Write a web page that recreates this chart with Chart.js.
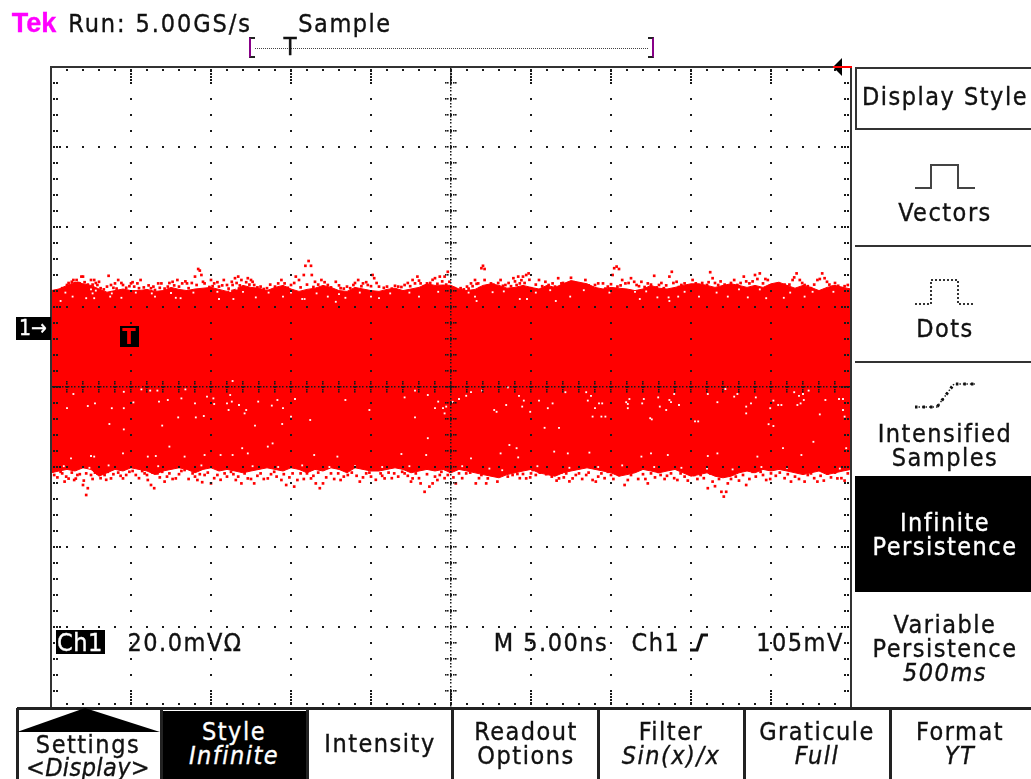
<!DOCTYPE html>
<html lang="en">
<head>
<meta charset="UTF-8">
<title>Tek Run: 5.00GS/s Sample</title>
<style>
    html, body { margin: 0; padding: 0; background: #fff; width: 1031px; height: 779px; overflow: hidden; }
    body { position: relative; font-family: "DejaVu Sans", sans-serif; font-stretch: condensed; font-size: 25px; color: #111; -webkit-text-stroke: 0.35px; }
    canvas { position: absolute; left: 0; top: 0; }
    .t { position: absolute; transform: translate(-50%, -50%); white-space: nowrap; line-height: 1; letter-spacing: 1.5px; }
    .w { color: #fff; }
    .i { font-style: italic; }
    .box { position: absolute; box-sizing: border-box; }
    .line { position: absolute; background: #333; }
</style>
</head>
<body>

<canvas id="scope" width="1031" height="779"></canvas>

<!-- header -->
<div class="t" style="left:34px;top:23px;color:#f0f;font-family:'Liberation Sans';font-weight:bold;font-size:27px;letter-spacing:0">Tek</div>
<div class="t" style="left:160px;top:23px;letter-spacing:1.9px">Run: 5.00GS/s</div>
<div class="t" style="left:345px;top:23px">Sample</div>
<div class="box" style="left:249px;top:37px;width:6px;height:21px;border:2px solid #222;border-right:0;border-left-color:#808"></div>
<div class="box" style="left:648px;top:37px;width:6px;height:21px;border:2px solid #222;border-left:0;border-right-color:#808"></div>
<div class="box" style="left:255px;top:48px;width:393px;height:1px;background:repeating-linear-gradient(90deg,#444 0 1px,#fff 1px 2px)"></div>
<div class="t" style="left:290px;top:47px;font-size:24px;letter-spacing:0">T</div>

<!-- channel + trigger markers -->
<div class="box" style="left:16px;top:317px;width:35px;height:23px;background:#000"></div>
<div class="t w" style="left:33px;top:328px;font-size:21px;letter-spacing:0">1→</div>
<div class="box" style="left:120px;top:326px;width:19px;height:21px;background:#000"></div>
<div class="t" style="left:129px;top:337px;font-size:22px;color:#f00;font-weight:bold;letter-spacing:0;-webkit-text-stroke:0">T</div>
<svg style="position:absolute;left:830px;top:55px" width="24" height="24">
    <polygon points="3,12 12,3 12,21" fill="#000"></polygon>
    <rect x="3" y="11" width="19" height="2" fill="#f00"></rect>
</svg>

<!-- readouts -->
<div class="box" style="left:56px;top:630px;width:49px;height:24px;background:#000"></div>
<div class="t w" style="left:80px;top:642px;letter-spacing:0.5px">Ch1</div>
<div class="t" style="left:185px;top:642px">20.0mVΩ</div>
<div class="t" style="left:551px;top:642px">M 5.00ns</div>
<div class="t" style="left:656px;top:642px">Ch1</div>
<svg style="position:absolute;left:688px;top:630px" width="22" height="24">
    <polyline points="2,20 9,20 14,5 20,5" fill="none" stroke="#111" stroke-width="3"></polyline>
</svg>
<div class="t" style="left:800px;top:642px">105mV</div>

<!-- right menu -->
<div class="box" style="left:855px;top:67px;width:176px;height:63px;border:2px solid #333;border-right:0"></div>
<div class="t" style="left:945px;top:96px">Display Style</div>
<svg style="position:absolute;left:910px;top:160px" width="70" height="34">
    <polyline points="5,28 21,28 21,5 48,5 48,28 65,28" fill="none" stroke="#444" stroke-width="2"></polyline>
</svg>
<div class="t" style="left:945px;top:212px">Vectors</div>
<div class="line" style="left:855px;top:245px;width:176px;height:2px"></div>
<svg style="position:absolute;left:910px;top:275px" width="70" height="34">
    <polyline points="5,29 21,29 21,5 48,5 48,29 65,29" fill="none" stroke="#333" stroke-width="2" stroke-dasharray="2 2"></polyline>
</svg>
<div class="t" style="left:945px;top:328px">Dots</div>
<div class="line" style="left:855px;top:361px;width:176px;height:2px"></div>
<svg style="position:absolute;left:910px;top:378px" width="70" height="34">
    <polyline points="5,29 27,29 44,6 66,6" fill="none" stroke="#222" stroke-width="1.5" stroke-dasharray="1.5 2"></polyline>
    <polyline points="5,29 27,29 44,6 66,6" fill="none" stroke="#111" stroke-width="3" stroke-dasharray="2.5 5"></polyline>
</svg>
<div class="t" style="left:945px;top:433px">Intensified</div>
<div class="t" style="left:945px;top:457px">Samples</div>
<div class="box" style="left:855px;top:476px;width:176px;height:116px;background:#000"></div>
<div class="t w" style="left:945px;top:522px">Infinite</div>
<div class="t w" style="left:945px;top:546px">Persistence</div>
<div class="t" style="left:945px;top:624px">Variable</div>
<div class="t" style="left:945px;top:648px">Persistence</div>
<div class="t i" style="left:945px;top:672px">500ms</div>

<!-- bottom menu -->
<div class="line" style="left:17px;top:707px;width:1014px;height:3px;background:#222"></div>
<div class="line" style="left:16px;top:708px;width:3px;height:71px;background:#222"></div>
<div class="line" style="left:160px;top:708px;width:3px;height:71px;background:#222"></div>
<div class="line" style="left:306px;top:708px;width:3px;height:71px;background:#222"></div>
<div class="line" style="left:451px;top:708px;width:3px;height:71px;background:#222"></div>
<div class="line" style="left:597px;top:708px;width:3px;height:71px;background:#222"></div>
<div class="line" style="left:743px;top:708px;width:3px;height:71px;background:#222"></div>
<div class="line" style="left:889px;top:708px;width:3px;height:71px;background:#222"></div>
<svg style="position:absolute;left:17px;top:707px" width="144" height="27">
    <polygon points="0,25 68,1 143,25" fill="#000"></polygon>
</svg>
<div class="t" style="left:88px;top:744px">Settings</div>
<div class="t" style="left:88px;top:767px;letter-spacing:0.4px">&lt;<span class="i">Display</span>&gt;</div>
<div class="box" style="left:163px;top:711px;width:143px;height:68px;background:#000"></div>
<div class="t w" style="left:234px;top:731px">Style</div>
<div class="t w i" style="left:234px;top:755px">Infinite</div>
<div class="t" style="left:380px;top:743px">Intensity</div>
<div class="t" style="left:526px;top:731px">Readout</div>
<div class="t" style="left:526px;top:755px">Options</div>
<div class="t" style="left:671px;top:731px">Filter</div>
<div class="t i" style="left:671px;top:755px">Sin(x)/x</div>
<div class="t" style="left:817px;top:731px">Graticule</div>
<div class="t i" style="left:817px;top:755px">Full</div>
<div class="t" style="left:960px;top:731px">Format</div>
<div class="t i" style="left:960px;top:755px">YT</div>

<script src="https://cdn.jsdelivr.net/npm/chart.js"></script>
<script>
    // Time in ns (5 ns/div), level in mV relative to the ch1 marker (20 mV/div)
    const bandTimes = [0,0.5,1,1.5,2,2.5,3,3.5,4,4.5,5,5.5,6,6.5,7,7.5,8,8.5,9,9.5,10,10.5,11,11.5,12,12.5,13,13.5,14,14.5,15,15.5,16,16.5,17,17.5,18,18.5,19,19.5,20,20.5,21,21.5,22,22.5,23,23.5,24,24.5,25,
        25.5,26,26.5,27,27.5,28,28.5,29,29.5,30,30.5,31,31.5,32,32.5,33,33.5,34,34.5,35,35.5,36,36.5,37,37.5,38,38.5,39,39.5,40,40.5,41,41.5,42,42.5,43,43.5,44,44.5,45,45.5,46,46.5,47,47.5,48,48.5,49,49.5,50];

    const bandTop = [9.1,9.5,10.4,11.2,10.8,10.4,9.5,8.7,9.1,9.5,9.1,9.1,9.4,8.9,9.1,9.9,9.4,9.1,9.5,9.7,9.9,9.4,8.9,9.4,10.4,9.9,9.7,9.1,9.9,10.4,9.5,8.9,9.4,9.7,10.4,9.9,9.1,8.9,9.9,9.5,9.1,8.9,9.4,9.7,9.1,9.5,9.9,10.8,10.4,10.5,10.4,
        9.5,9.1,9.4,10.4,10.8,10.4,9.7,9.9,10.4,9.9,9.5,10.4,9.9,10.8,11.6,11.2,10.8,9.9,9.5,9.9,9.7,9.5,9.1,9.5,10.4,9.7,9.5,9.9,10.4,10.8,10.8,10.4,9.9,10.4,10.8,10.4,9.9,10.4,9.9,10.8,11.2,10.4,9.7,10.4,9.9,9.1,9.9,10.4,9.9,9.5];

    const bandBottom = [-36.45,-36,-35.6,-36,-35.2,-35.6,-37.3,-36.45,-35.6,-36,-35.2,-35.6,-36,-36.9,-36,-35.6,-35.2,-35.6,-36.45,-35.6,-35.2,-36,-35.6,-36,-36.45,-36,-35.6,-35.2,-35.6,-36,-35.2,-35.6,-36.45,-35.6,-36,-35.2,-35.6,-36.45,-35.2,-35.6,-36,-36,-35.6,-35.2,-35.6,-36.45,-36,-35.6,-36,-35.6,-36.45,
        -35.6,-36,-36.45,-36.9,-37.3,-37.7,-36.9,-36.45,-36,-35.6,-36.45,-36.9,-37.3,-36.45,-36,-35.6,-35.2,-35.6,-36,-36.45,-37.3,-36.9,-36.45,-35.6,-36,-36.45,-36,-35.6,-36.45,-37.3,-36.9,-36.45,-37.3,-37.7,-37.3,-36.45,-36,-36.45,-35.6,-36,-35.6,-36,-36.45,-36.9,-36.45,-36,-36.9,-36.45,-36,-35.6];

    // samples outside the solid band
    const upperSamples = [[0.4,8.4],[0.7,9.7],[1,10.5],[1.4,11.75],[1.6,11.75],[1.9,12.6],[2,12.6],[1.8,10.9],[2.2,10.1],[2.5,11.75],[2.7,11.75],[2.9,10.5],[2.4,9.25],[2.7,8.4],[3.1,9.7],[3.6,12.8],[3.75,10.5],[4,10.9],[4.2,11.75],[4.5,10.5],[5,10.9],[5.2,10.1],[5.6,11.75],[5.5,9.7],[6.25,9.7],[6.7,10.9],[6.9,10.9],[6.5,9.25],[7.3,10.1],[7.6,11.3],[7.9,11.75],[8,10.1],[8.5,10.9],[9,12.6],[9.2,14.5],[9.3,14.1],[9.4,13],[8.6,9.7],[9.6,10.9],[10,11.75],[10.2,10.9],[10.5,10.1],[10.8,11.75],[11,10.5],[11.5,12.2],[11.7,12.6],[11.9,11.75],[11.35,10.5],[12.3,12.2],[12.5,11.75],[12.7,10.5],[12.1,9.7],[13.1,10.1],[13.5,9.7],[14,10.1],[14.4,11.75],[14.6,10.9],[15.3,12.6],[15.5,11.75],[15.8,13],[15.9,15.3],[16.1,16.5],[16.25,15.3],[16.3,13],[16.5,11.3],[16.9,11.75],[17.3,10.5],[17.8,11.3],[18.1,9.7],[18.5,10.1],[18.9,10.5],[19.2,11.75],[19.5,10.9],[19.8,10.5],[20.1,13],[20.2,12.2],[20.5,10.1],[21,10.1],[21.7,10.1],[22.1,10.5],[22.6,11.75],[22.9,12.6],[23.1,10.9],[23.5,10.9],[24,12.2],[24.3,12.6],[24.6,12.6],[24.8,13.8],[24.9,11.3],
        [25.2,9.7],[25.6,9.7],[26,10.1],[26.25,10.9],[26.5,11.75],[26.7,10.9],[26.9,14.7],[27,15.3],[27.1,14.5],[27.1,11.75],[26.8,9.7],[27.5,10.9],[27.8,10.1],[28.1,11.75],[28.4,10.5],[28.9,12.2],[29.2,12.6],[29.5,12.6],[29.7,13],[29.85,13.4],[29.3,10.9],[30,9.7],[30.5,11.75],[30.9,11.3],[30.2,9.25],[31.35,10.9],[31.7,12.2],[31.9,10.9],[32.2,9.7],[32.5,12.3],[32.8,10.1],[33.1,10.1],[33.4,11.75],[34,10.5],[34.5,10.9],[34.8,10.1],[35.1,13],[35.2,14.7],[35.35,15.1],[35.5,14.5],[35.7,11.75],[35.4,10.1],[36.25,12.2],[36.6,10.5],[36.9,11.3],[37.3,10.9],[37.7,12.8],[38,10.5],[38.3,9.7],[38.65,12.6],[38.8,13.8],[39.1,11.3],[39.4,10.5],[39.8,9.7],[40.1,11.75],[40.5,10.1],[41,10.5],[41.2,13.7],[41.35,12.2],[41.7,10.5],[42.3,9.7],[42.7,11.75],[42.9,10.5],[43.3,12.6],[43.65,10.9],[44,13],[44.3,13.4],[44.5,10.9],[44.8,11.75],[45.3,10.1],[45.6,9.7],[46,10.1],[46.35,11.75],[46.6,13.4],[46.8,11.75],[47.1,10.5],[47.5,9.7],[47.9,11.75],[48.2,13.4],[48.5,11.3],[48.85,10.1],[49.4,9.7],[49.8,10.5],
        [0.2,8.9],[0.5,9.2],[0.9,9.6],[1.1,11],[1.2,10.2],[1.3,11.3],[1.5,10.9],[1.7,11],[1.75,10.2],[2.1,11.2],[2.3,10.6],[2.6,10.6],[2.8,11],[3,11.3],[3.3,9.4],[3.5,10.1],[3.9,9.8],[4.1,9.6],[4.4,11],[4.7,9.8],[4.9,10.2],[5.1,11.2],[5.4,10.9],[5.8,9.9],[6.1,10.4],[6.4,10.1],[6.8,9.8],[7.1,9.6],[7.4,11],[7.7,10.4],[8.2,10.9],[8.4,11.4],[8.8,11],[9.1,10.5],[9.5,11.3],[9.9,10],[10.1,10.2],[10.4,11.2],[10.7,10.4],[11.1,9.6],[11.3,11.3],[11.6,11],[11.8,10.4],[12.2,11.2],[12.4,10.6],[12.6,11.3],[12.9,9.9],[13.3,9.5],[13.7,10.6],[14.2,10.9],[14.8,9.8],[15,10.5],[15.2,11],[15.6,9.9],[16,10.6],[16.4,10],[16.7,10.6],[17.1,11.2],[17.5,9.9],[18,10.4],[18.3,9.6],[18.7,9.7],[19,11],[19.4,10.2],[19.7,11.2],[20,10.2],[20.35,11],[20.8,9.8],[21.3,9.6],[21.5,10.3],[21.9,10],[22.3,11],[22.45,10.2],[22.75,10.9],[23,11.6],[23.3,10.2],[23.7,11],[23.85,11.8],[24.15,10.8],[24.45,11.4],[24.7,10.6],
        [25.4,9.1],[25.8,9.4],[26.1,9.6],[26.35,10.2],[26.6,10.8],[27.3,10.2],[27.65,10.6],[27.95,11],[28.25,10.3],[28.6,11],[28.75,10.2],[29,11.4],[29.1,10.5],[29.4,11.7],[29.6,11],[29.9,11.8],[30.3,10.6],[30.7,10.2],[31.1,10.5],[31.5,10.1],[32,11],[32.35,10.4],[32.65,11.2],[33,10.8],[33.25,9.7],[33.6,10.4],[33.85,9.8],[34.2,10.9],[34.65,9.6],[35,10.7],[35.6,10.4],[35.9,10.9],[36.1,11],[36.45,11.3],[36.75,10.2],[37.1,10],[37.5,10.6],[37.85,9.9],[38.15,11],[38.45,10.4],[38.9,11],[39.25,10],[39.6,10.9],[39.95,10.2],[40.3,10.9],[40.7,11],[41.1,11.2],[41.5,11],[41.85,11.4],[42.1,10.6],[42.5,11],[43.1,11],[43.45,11.4],[43.85,11.4],[44.15,12],[44.65,12],[44.95,10.4],[45.15,9.9],[45.45,10.3],[45.85,10.6],[46.15,10.6],[46.45,12.4],[46.95,11],[47.3,10.2],[47.7,10.6],[48.05,12],[48.35,12.2],[48.65,10.6],[49,11],[49.2,10.3],[49.6,10.2]];

    const lowerSamples = [[0.2,-37],[0.6,-36.2],[0.95,-37.4],[0.85,-38.65],[1.45,-38.25],[1.65,-37],[2.05,-38.4],[2,-39.5],[2.2,-42],[2.3,-40.3],[2.5,-37],[2.9,-36.6],[3.35,-37],[3.55,-36.2],[3.75,-37.85],[4.5,-37.85],[4.9,-36.2],[5.3,-37],[5.85,-36.6],[6.05,-38.25],[6.25,-39.5],[6.45,-40.3],[6.65,-36.6],[7.1,-38.65],[7.4,-36.6],[7.8,-37.85],[8.35,-35.75],[8.85,-36.6],[9.15,-38.25],[9.6,-37],[10,-39.1],[10.4,-37],[10.85,-36.6],[11.25,-36.2],[11.55,-38.25],[11.9,-39.1],[12.3,-37.85],[12.7,-39.1],[13.1,-36.6],[13.55,-37.85],[13.95,-36.2],[14.4,-38.25],[14.7,-39.5],[15.2,-39.9],[15.4,-38.25],[15.6,-36.6],[16.25,-37.85],[16.55,-39.1],[16.8,-40.3],[17,-39.1],[17.5,-36.6],[18.1,-38.25],[18.55,-37],[19.3,-38.65],[19.7,-36.6],[20,-37.4],[20.6,-36.6],[20.85,-37.85],[21.45,-36.6],[22.1,-36.6],[22.5,-38.65],[22.6,-37.85],[23.1,-39.1],[23.35,-41.2],[23.65,-39.9],[23.85,-39.1],[24.15,-38.25],[24.4,-36.2],[24.8,-37],
        [25.3,-39.1],[25.5,-36.6],[25.95,-36.6],[26.55,-39.1],[26.9,-37],[27.2,-39.1],[27.3,-37.85],[27.7,-37],[27.9,-38.65],[28.35,-35.75],[28.85,-37],[29.15,-36.75],[29.5,-36.75],[29.7,-37.85],[30,-36.6],[30.1,-35.75],[30.75,-35.75],[31.15,-35.3],[31.45,-36.6],[31.75,-37.85],[32.2,-36.6],[32.6,-37.85],[33,-36.6],[33.45,-37],[33.85,-38.25],[34.05,-38.65],[34.4,-36.6],[35,-37],[35.3,-36.2],[35.85,-39.5],[36.05,-38.25],[36.45,-35.75],[37.3,-39.1],[37.5,-36.6],[38.1,-37],[38.75,-36.6],[39.15,-38.25],[39.6,-37.4],[40.2,-37],[40.6,-37],[41.05,-40.3],[41.35,-38.65],[41.65,-37],[41.9,-41.2],[42.05,-42.4],[42.2,-41.2],[42.3,-39.1],[42.8,-37.4],[43.45,-39.5],[43.85,-36.2],[44.7,-38.25],[45,-36.6],[46.25,-38.65],[47.1,-38.65],[47.9,-38.65],[47.5,-36.6],[48.55,-36.6],[49.15,-37.85],[49.8,-36.6],
        [0.1,-36],[0.4,-37.6],[0.7,-36.6],[1.1,-37.9],[1.3,-36.4],[1.55,-37.9],[1.8,-36.8],[2.2,-36.6],[2.6,-38],[2.75,-36.4],[3.1,-37.8],[3.2,-36.4],[3.45,-38.2],[3.9,-36.8],[4.2,-36.4],[4.35,-37.2],[4.7,-37],[5.1,-36],[5.5,-37.8],[5.7,-36],[6,-37],[6.35,-36.4],[6.8,-37.6],[6.95,-36.2],[7.25,-37.4],[7.6,-38],[8,-36.8],[8.15,-36],[8.6,-38],[9,-37.4],[9.3,-36.8],[9.45,-38.8],[9.8,-36.4],[10.2,-37.8],[10.6,-38.2],[11,-37.4],[11.4,-36.8],[11.7,-37.4],[12.1,-36.6],[12.5,-38],[12.9,-37.2],[13.3,-38],[13.75,-36.8],[14.1,-37.4],[14.55,-36.8],[14.9,-37.6],[15.1,-36.6],[15.8,-38],[16,-36.6],[16.4,-37.2],[16.7,-36.4],[17.2,-37.6],[17.7,-38],[17.95,-36.6],[18.3,-37.4],[18.8,-36.4],[19.1,-37.2],[19.5,-37.6],[19.9,-36.4],[20.3,-38.2],[20.7,-37.2],[21.1,-36.4],[21.3,-37.8],[21.7,-37.4],[21.95,-36.2],[22.3,-37.2],[22.8,-36.6],[23,-37.8],[23.5,-36.8],[24,-37.4],[24.3,-37],[24.6,-37.8],[24.95,-36.2],
        [25.15,-37.6],[25.7,-37.8],[26.2,-36.4],[26.75,-37.8],[27.05,-36.2],[27.5,-36.6],[27.85,-37],[28.1,-36.4],[28.55,-37.4],[28.7,-36.2],[29.3,-37.8],[29.95,-37.6],[30.3,-37],[30.55,-36.4],[30.95,-36.8],[31.3,-37.4],[31.6,-38.4],[31.9,-36.4],[32.05,-37.6],[32.4,-38.6],[32.8,-37],[33.2,-38],[33.6,-36.4],[34.2,-37.4],[34.6,-37.8],[34.8,-36.2],[35.15,-38],[35.5,-37],[36.25,-37],[36.7,-38],[37,-36.8],[37.15,-38],[37.75,-37.6],[37.95,-36.2],[38.35,-38],[38.5,-37.2],[38.95,-37.8],[39.35,-36.6],[39.8,-38.4],[40,-36.6],[40.4,-38],[40.8,-37.8],[41.2,-36.6],[41.5,-39.8],[41.75,-38],[42,-36.8],[42.5,-38],[42.65,-36.4],[43,-38.4],[43.25,-37],[43.65,-38],[44.05,-37.4],[44.35,-36.2],[44.5,-37],[44.95,-38],[45.3,-37.2],[45.55,-36.4],[45.85,-37.8],[46.05,-36.8],[46.5,-37.4],[46.75,-38],[47.3,-37],[47.7,-37.8],[48.1,-37.2],[48.3,-38.4],[48.75,-37.6],[49,-36.4],[49.4,-37.8],[49.6,-38.4]];

    // gaps left inside the band
    const bandGaps = [[1.4,-16.75],[1,-20.3],[2.3,-19.75],[2.75,-19.1],[3.8,-20.3],[4.55,-20.3],[3.65,-24.25],[4.55,-25.6],[4.55,-16.2],[5.15,-18.85],[5.65,-15.6],[6.2,-15.9],[6.65,-15.9],[6.75,-18.65],[7.3,-18.25],[8.15,-17.85],[7.95,-22.6],[6.95,-24.65],[7.4,-29.9],[8.4,-15.6],[9,-19.1],[9.05,-22.6],[9.55,-22.25],[9.75,-17.4],[10.15,-17.85],[10.2,-19.25],[11,-19.1],[11.2,-17],[11.35,-13.5],[11.3,-18.65],[11.1,-20.75],[11.75,-19.5],[12.2,-20.75],[12.1,-21.6],[12.75,-24.65],[12.95,-18.65],[13.8,-19.65],[14.15,-18.25],[14.5,-20.3],[14.45,-24.25],[15,-22.4],[15.25,-18],[13.85,-29.1],[13.55,-29.9],[11.95,-30.3],
        [16.2,-23.25],[18.4,-18.25],[19.9,-20.75],[22.1,-17.6],[22.75,-15.9],[23.55,-17],[24,-20.3],[24.2,-18.65],[24.5,-20.3],[24.6,-21.6],[24.7,-19.9],[22.75,-22.6],[23.55,-27.8],
        [25.95,-17.2],[26.25,-16.3],[25.5,-18],[25.1,-18.7],[26.95,-15.9],[28.55,-15.1],[29.25,-17.2],[28.45,-19.5],[29.55,-18.4],[29.45,-19.9],[29.95,-21.2],[30.5,-18.4],[31.35,-19.1],[31.05,-20.3],[27.7,-20.75],[27.85,-21.2],[32.15,-16.3],[33.45,-16.3],[33.75,-17.2],[33.55,-18.4],[34.25,-19.1],[34.45,-19.1],[34,-20.3],[33.85,-22.4],[34.4,-22.4],[34.65,-22.4],[36.15,-18],[35.95,-18.8],[36.05,-19.25],[36.05,-20.3],[37.05,-18],[36.95,-19.1],[37.95,-17.6],[38.05,-19.9],[38.65,-18.25],[38.75,-18.8],[38.45,-20.75],[38.95,-16.75],[39.25,-19.5],[37.45,-22.8],[37.55,-23.1],[30.85,-25.2],[31.75,-25.2],[28.65,-29.5],[29.1,-30.3],[40.25,-23.6],[40.45,-23.6],[41.05,-16.75],[41.65,-18.8],[42.15,-15.5],[42.7,-17.4],[42.9,-16.75],[43.45,-19.9],[43.45,-21.6],[43.75,-19.1],[44.05,-17.6],[44.95,-20.3],[45.15,-18.4],[45.45,-19.5],[45.65,-19.5],[46.45,-16.3],[46.75,-17.2],[47,-16.75],[47.05,-18.25],[46.65,-19.5],[46.85,-19.1],[47.35,-15.9],[48.05,-21.85],[48.4,-18.25],[49.25,-18],[49.5,-18],[49.5,-20.75],[49.6,-22.4],[44.85,-24.3],[45.15,-24.75],[47.65,-28.7],[45.75,-30.3],[49.7,-30.3],
        [0.6,6.5],[1.35,7.6],[2.2,7.2],[2.7,7.2],[3.7,7.6],[4.4,7.3],[6.5,7.6],[7.8,7.3],[8.1,7.2],[10.5,7],[11.4,7],[12.8,7.4],[14.5,7.6],[15.7,7],[15.85,7],[17.3,7.6],[17.8,6.3],[18.4,7.3],[20,7.6],[20.5,7.2],[23,7.6],
        [26.6,6.5],[26.5,7.6],[29.3,7],[29.75,7],[31.55,6.5],[32.45,7.6],[36.8,7],[37.9,7.4],[38.6,7.4],[38.65,6.5],[39.2,7.6],[40.5,7.6],[42.3,7.6],[43.55,7.4],[44.7,7.2],[45.8,7.3],[47.1,7.6],
        [1.25,-32.85],[2.5,-32.25],[2.7,-32.4],[4.5,-31.6],[6.05,-32.4],[6.55,-32.25],[8.35,-32.4],[9.6,-32],[10.6,-32],[11.35,-32],[12.3,-31.6],[16.45,-32],[17.9,-32.4],[21.9,-31.75],[23.45,-32],
        [26.25,-32.85],[28.1,-31.6],[29.2,-32.6],[31.45,-31.15],[32.3,-31.6],[33.65,-31.4],[36.9,-32.4],[37.5,-31.6],[38.55,-32],[41.05,-32.25],[41.65,-31.6],[46.9,-32],[44.15,-32.4],
        [0.9,8.6],[2.5,9.4],[2.8,9.1],[2.6,8.4],[3.8,8.4],[5.3,8.6],[6.3,8.4],[7.5,8.5],[8.9,8.6],[10.4,8.8],[11.2,9],[11.6,9.6],[12,8.8],[13.6,8.6],[15,8.6],[16.6,8.4],[18,8.2],[19.3,8.6],[21.2,8.4],[22.4,8.6],[24.2,8.8],[26.1,8.6],[27.6,8.7],[28.3,8.9],[30.3,8.6],[31.2,9.2],[33.3,9.2],[34.9,8.6],[36.5,8.8],[37.2,8.9],[39.6,8.8],[41.6,8.6],[43,9.4],[44.3,9.4],[46.2,8.6],[47.6,8.8],[48.9,8.8],
        [0.8,-34.8],[2.4,-35.2],[3.6,-34.6],[5,-35],[6.7,-34.8],[8,-35],[9.4,-34.6],[11,-35],[12.6,-34.8],[14.2,-35],[15.7,-34.6],[17.4,-35],[19,-34.8],[20.7,-35],[22.4,-34.8],[24,-35],[25.7,-34.8],[27.4,-35.4],[28.2,-35.8],[30.4,-34.8],[32.4,-35.2],[34.2,-35],[35.7,-34.6],[37.7,-35],[39.4,-35.2],[41,-35.4],[42.6,-35.6],[44.4,-35],[46,-35.2],[48,-35],[49.3,-35.4]];

    // graticule: divisions and subdivisions on both scales
    const timeDivisions = [0,5,10,15,20,25,30,35,40,45,50];
    const levelDivisions = [65,45,25,5,-15,-35,-55,-75,-95];
    const timeCentre = 25;
    const levelCentre = -15;
    const timeSubdiv = 1;    // ns
    const levelSubdiv = 4;   // mV

    const graticule = {
        id: 'graticule',
        afterDatasetsDraw(chart) {
            const g = chart.ctx, xs = chart.scales.x, ys = chart.scales.y;
            const px = v => xs.getPixelForValue(v), py = v => ys.getPixelForValue(v);
            const { left, right, top, bottom } = chart.chartArea;
            const dot = (x, y, size = 2) => g.fillRect(Math.round(x) - 1, Math.round(y) - 1, size, size);
            g.save();
            g.fillStyle = '#1a1a1a';

            // dots along each horizontal division
            levelDivisions.slice(1, -1).forEach(l => {
                for (let t = timeSubdiv; t < 50; t += timeSubdiv) dot(px(t), py(l));
            });
            // dots down each vertical division
            timeDivisions.slice(1, -1).forEach(t => {
                for (let l = 65 - levelSubdiv; l > -95; l -= levelSubdiv) dot(px(t), py(l));
                for (let k = 1; k < 5; k++) { dot(px(t), top + 3 * k + 1); dot(px(t), bottom - 3 * k - 1); }
            });
            // ticks on the frame
            for (let t = timeSubdiv; t < 50; t += timeSubdiv) { dot(px(t), top + 3); dot(px(t), bottom - 3); }
            for (let l = 65 - levelSubdiv; l > -95; l -= levelSubdiv) {
                [3, 6].forEach(d => { dot(left + d, py(l)); dot(right - d, py(l)); });
            }
            levelDivisions.slice(1, -1).forEach(l => {
                dot(left + 9, py(l)); dot(right - 9, py(l));
            });

            // centre cross
            for (let x = left + 2; x < right; x += 3.2) dot(x, py(levelCentre), 1.5);
            for (let y = top + 2; y < bottom; y += 3.2) dot(px(timeCentre), y, 1.5);
            for (let t = timeSubdiv; t < 50; t += timeSubdiv) {
                [-5, -3, 3, 5].forEach(d => dot(px(t), py(levelCentre) + d, 1.6));
            }
            for (let l = 65 - levelSubdiv; l > -95; l -= levelSubdiv) {
                [-5, -3, 3, 5].forEach(d => { dot(px(timeCentre) + d, py(l), 1.6); });
            }
            g.restore();

            // frame
            g.strokeStyle = '#333';
            g.lineWidth = 2;
            g.beginPath();
            g.moveTo(left, bottom);
            g.lineTo(left, top);
            g.lineTo(right, top);
            g.lineTo(right, bottom);
            g.stroke();
        }
    };

    const toPoints = pairs => pairs.map(p => ({ x: p[0], y: p[1] }));
    const sampleStyle = (color, size) => ({
        type: 'scatter',
        pointStyle: 'rect',
        pointRadius: size,
        pointBorderWidth: 0,
        pointBackgroundColor: color,
        showLine: false
    });

    new Chart(document.getElementById('scope').getContext('2d'), {
        type: 'line',
        data: {
            datasets: [
                { label: 'gaps', data: toPoints(bandGaps), order: 1, ...sampleStyle('#fff', 1.3) },
                { label: 'upper samples', data: toPoints(upperSamples), order: 2, ...sampleStyle('#f00', 1.9) },
                { label: 'lower samples', data: toPoints(lowerSamples), order: 2, ...sampleStyle('#f00', 1.9) },
                {
                    label: 'band top',
                    data: bandTimes.map((t, i) => ({ x: t, y: bandTop[i] })),
                    borderColor: '#f00', backgroundColor: '#f00', borderWidth: 1,
                    pointRadius: 0, tension: 0, fill: '+1', order: 3
                },
                {
                    label: 'band bottom',
                    data: bandTimes.map((t, i) => ({ x: t, y: bandBottom[i] })),
                    borderColor: '#f00', borderWidth: 1,
                    pointRadius: 0, tension: 0, fill: false, order: 3
                }
            ]
        },
        options: {
            responsive: false,
            animation: false,
            devicePixelRatio: 1,
            layout: { padding: { left: 51, right: 180, top: 67, bottom: 72 } },
            plugins: { legend: { display: false }, tooltip: { enabled: false } },
            scales: {
                x: { type: 'linear', min: 0, max: 50, display: false },
                y: { type: 'linear', min: -95, max: 65, display: false }
            }
        },
        plugins: [graticule]
    });
</script>
</body>
</html>
